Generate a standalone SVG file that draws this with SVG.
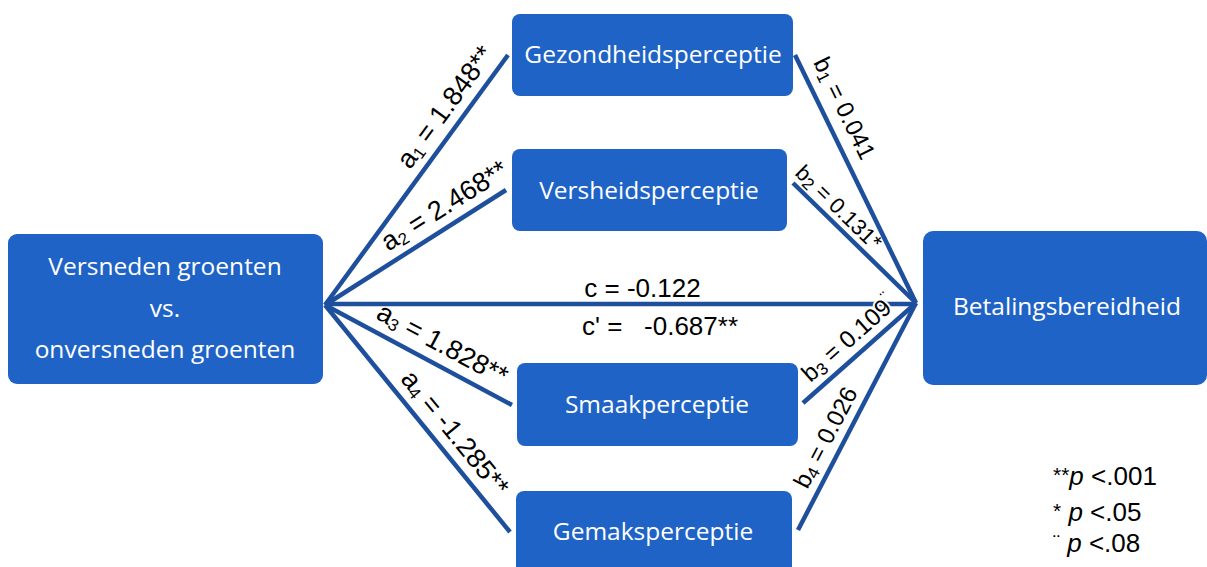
<svg xmlns="http://www.w3.org/2000/svg" width="1207" height="567" viewBox="0 0 1207 567">
<style>
.node{fill:#1F63C6;}
.nt{font-family:"Open Sans","Noto Sans",sans-serif;font-size:24.5px;fill:#FFFFFF;text-anchor:middle;}
.conn{stroke:#1E4F9C;stroke-width:4.5;fill:none;stroke-linecap:butt;}
.lbl{font-family:"Liberation Sans",Arial,sans-serif;font-size:27px;fill:#000000;text-anchor:middle;}
.lblb{font-family:"Liberation Sans",Arial,sans-serif;font-size:24px;fill:#000000;text-anchor:middle;}
.sub{font-size:17px;}
.leg{font-family:"Liberation Sans",Arial,sans-serif;font-size:26px;fill:#000000;}
.halo{stroke:#FFFFFF;stroke-width:4;paint-order:stroke;stroke-linejoin:round;}
</style>
<rect width="1207" height="567" fill="#FFFFFF"/>
<g id="connectors">
<line class="conn" x1="325" y1="305" x2="508" y2="55"/>
<line class="conn" x1="325" y1="305" x2="506" y2="190"/>
<line class="conn" x1="325" y1="305" x2="512" y2="405"/>
<line class="conn" x1="325" y1="305" x2="510" y2="532"/>
<line class="conn" x1="325" y1="304" x2="916" y2="304"/>
<line class="conn" x1="795" y1="55" x2="916" y2="303"/>
<line class="conn" x1="793" y1="183" x2="916" y2="303"/>
<line class="conn" x1="803" y1="403" x2="916" y2="303"/>
<line class="conn" x1="798" y1="530" x2="916" y2="303"/>
</g>
<g id="labels">
<g transform="translate(452.4,112.3) rotate(-53.8)"><text class="lbl">a<tspan class="sub" dy="3">1</tspan><tspan dy="-3"> = 1.848**</tspan></text></g>
<g transform="translate(449.1,213.2) rotate(-32.4)"><text class="lbl">a<tspan class="sub" dy="3">2</tspan><tspan dy="-3"> = 2.468**</tspan></text></g>
<g transform="translate(438.2,351.8) rotate(28.1)"><text class="lbl">a<tspan class="sub" dy="3">3</tspan><tspan dy="-3"> = 1.828**</tspan></text></g>
<g transform="translate(448.1,438.6) rotate(50.8)"><text class="lbl">a<tspan class="sub" dy="3">4</tspan><tspan dy="-3"> = -1.285**</tspan></text></g>
<g transform="translate(837.1,111.8) rotate(64)"><text class="lblb">b<tspan class="sub" dy="3">1</tspan><tspan dy="-3"> = 0.041</tspan></text></g>
<g transform="translate(833.5,212.7) rotate(44.3)"><text class="lblb" style="font-size:22px">b<tspan class="sub" dy="3">2</tspan><tspan dy="-3"> = 0.131*</tspan></text></g>
<g transform="translate(853.9,344.6) rotate(-41.5)"><text class="lblb halo">b<tspan class="sub" dy="3">3</tspan><tspan dy="-3"> = 0.109</tspan><tspan class="sub" dy="-9">¨</tspan></text></g>
<g transform="translate(832.8,441.2) rotate(-62.5)"><text class="lblb">b<tspan class="sub" dy="3">4</tspan><tspan dy="-3"> = 0.026</tspan></text></g>
<text class="lbl" style="font-size:26px" x="642.5" y="297">c = -0.122</text>
<text class="lbl" style="font-size:26px;text-anchor:start" x="582" y="335" xml:space="preserve">c' =   -0.687**</text>
</g>
<g id="node-versneden">
<rect class="node" x="8" y="234" width="315" height="150" rx="9"/>
<text class="nt" x="165" y="275">Versneden groenten</text>
<text class="nt" x="165" y="317">vs.</text>
<text class="nt" x="165" y="358">onversneden groenten</text>
</g>
<g id="node-gezondheid">
<rect class="node" x="512" y="14" width="281" height="82" rx="8"/>
<text class="nt" x="653" y="63">Gezondheidsperceptie</text>
</g>
<g id="node-versheid">
<rect class="node" x="512" y="149" width="275" height="82" rx="8"/>
<text class="nt" x="649" y="199">Versheidsperceptie</text>
</g>
<g id="node-smaak">
<rect class="node" x="517" y="363" width="281" height="83" rx="8"/>
<text class="nt" x="657" y="413">Smaakperceptie</text>
</g>
<g id="node-gemak">
<rect class="node" x="516" y="491" width="276" height="90" rx="8"/>
<text class="nt" x="653" y="540">Gemaksperceptie</text>
</g>
<g id="node-betaling">
<rect class="node" x="923" y="231" width="284" height="154" rx="10"/>
<text class="nt" x="1067" y="315">Betalingsbereidheid</text>
</g>
<g id="legend">
<text class="leg" x="1053" y="485"><tspan style="font-size:21px" dy="-3">**</tspan><tspan font-style="italic" dy="3">p</tspan> &lt;.001</text>
<text class="leg" x="1053" y="521"><tspan style="font-size:21px" dy="-3">*</tspan><tspan font-style="italic" dy="3"> p</tspan> &lt;.05</text>
<text class="leg" x="1053" y="552"><tspan style="font-size:21px" dy="-3">¨</tspan><tspan font-style="italic" dy="3"> p</tspan> &lt;.08</text>
</g>
</svg>
